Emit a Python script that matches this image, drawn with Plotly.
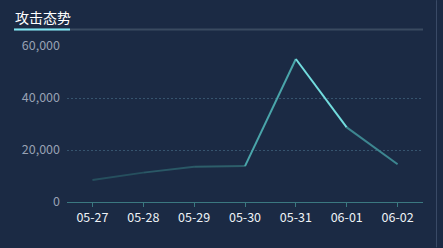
import plotly.graph_objects as go

dates = ["05-27", "05-28", "05-29", "05-30", "05-31", "06-01", "06-02"]
attacks = [8500, 11300, 13600, 13800, 55000, 28700, 14500]
y_ticks = [0, 20000, 40000, 60000]
y_tick_labels = ["0", "20,000", "40,000", "60,000"]
title_text = "攻击态势"

W, H = 443, 248
L, R, T, B = 67, 20, 46, 45.5
pw, ph = W - L - R, H - T - B

def px_x(px):
    return (px - L) / pw

def px_y(py):
    return (H - B - py) / ph

# colour per segment (vertical gradient approximated: brighter when higher)
seg_colors = ["#264f5e", "#2a5866", "#2d5e6a", "#4aa5aa", "#72dcde", "#3d8690"]

fig = go.Figure()
for i in range(len(dates) - 1):
    fig.add_trace(go.Scatter(
        x=dates[i:i + 2], y=attacks[i:i + 2], mode="lines",
        line=dict(color=seg_colors[i], width=2),
        showlegend=False, hoverinfo="skip"))

fig.update_layout(
    width=W, height=H,
    margin=dict(l=L, r=R, t=T, b=B),
    paper_bgcolor="#1b2a44", plot_bgcolor="#1b2a44",
    font=dict(family="Noto Sans CJK SC, Noto Sans, sans-serif"),
    xaxis=dict(
        type="category", categoryorder="array", categoryarray=dates,
        range=[-0.5, len(dates) - 0.5],
        showgrid=False, showline=True, linecolor="#3b7880", linewidth=1,
        ticks="outside", ticklen=4, tickcolor="#3b7880",
        tickfont=dict(color="#eef2f6", size=12.5), zeroline=False,
    ),
    yaxis=dict(
        range=[0, 60000], tickvals=y_ticks, ticktext=y_tick_labels,
        showgrid=True, gridcolor="#36546e", griddash="2px,2px", gridwidth=1,
        zeroline=False, showline=False, ticks="", ticklabelstandoff=6,
        tickfont=dict(color="#98a1b3", size=12.5),
    ),
    shapes=[
        dict(type="line", xref="paper", yref="paper",
             x0=px_x(14), x1=px_x(423), y0=px_y(29.5), y1=px_y(29.5),
             line=dict(color="#3a4a60", width=2)),
        dict(type="line", xref="paper", yref="paper",
             x0=px_x(14), x1=px_x(70), y0=px_y(29.5), y1=px_y(29.5),
             line=dict(color="#7fe6f2", width=2)),
        dict(type="line", xref="paper", yref="paper",
             x0=px_x(436.5), x1=px_x(436.5), y0=px_y(0), y1=px_y(H),
             line=dict(color="#3a4a66", width=1)),
    ],
    annotations=[
        dict(text=title_text, xref="paper", yref="paper",
             x=px_x(13), y=px_y(17), xanchor="left", yanchor="middle",
             showarrow=False, font=dict(color="#ffffff", size=14)),
    ],
)

fig.write_html("out.html")
